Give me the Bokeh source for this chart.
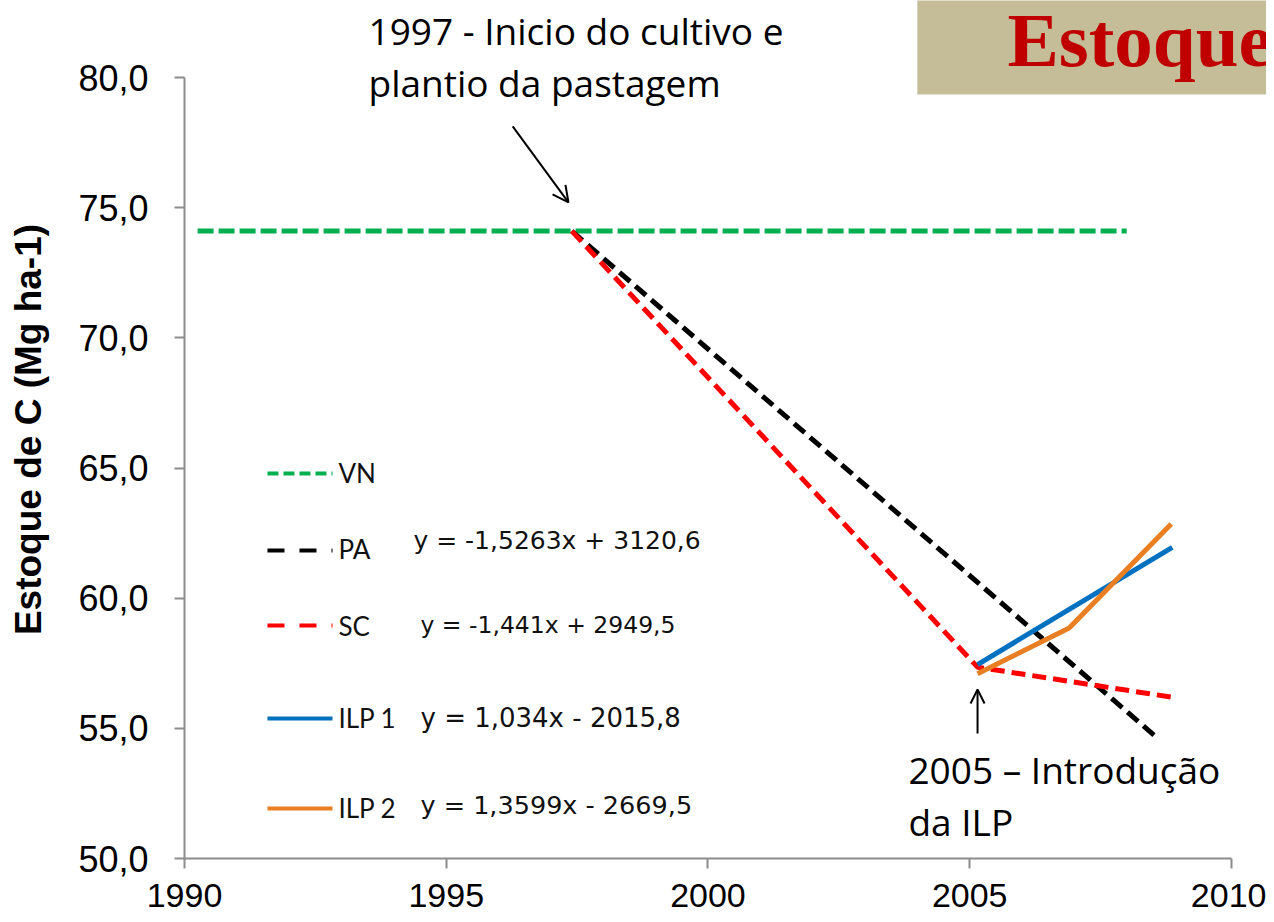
from bokeh.plotting import figure
from bokeh.models import Range1d, FixedTicker, Arrow, OpenHead
from bokeh.core.properties import value
from bokeh.embed import file_html
from bokeh.resources import INLINE

# ---- data ----
vn_x = [1990.25, 2008.0]
vn_y = [74.1, 74.1]
pa_x = [1997.4, 2008.6]
pa_y = [74.1, 54.6]
sc_x = [1997.4, 2005.15, 2008.85]
sc_y = [74.1, 57.35, 56.2]
ilp1_x = [2005.15, 2008.87]
ilp1_y = [57.45, 61.95]
ilp2_x = [2005.15, 2006.9, 2008.85]
ilp2_y = [57.1, 58.85, 62.85]

x_ticks = [1990, 1995, 2000, 2005, 2010]
y_ticks = [50, 55, 60, 65, 70, 75, 80]
y_tick_labels = ["50,0", "55,0", "60,0", "65,0", "70,0", "75,0", "80,0"]

series_names = ["VN", "PA", "SC", "ILP 1", "ILP 2"]
equations = ["", "y = -1,5263x + 3120,6", "y = -1,441x + 2949,5",
             "y = 1,034x - 2015,8", "y = 1,3599x - 2669,5"]

GREEN = "#00B050"
RED = "#FF0000"
BLACK = "#000000"
BLUE = "#0070C0"
ORANGE = "#E97E22"

p = figure(width=1266, height=914, output_backend="svg", toolbar_location=None,
           x_range=Range1d(1990, 2010.67), y_range=Range1d(50, 82.958),
           min_border_left=184, min_border_right=0, min_border_top=0,
           min_border_bottom=56)
p.outline_line_color = None
p.grid.visible = False
p.background_fill_color = "white"
p.border_fill_color = "white"

# axes
for ax in (p.xaxis[0], p.yaxis[0]):
    ax.axis_line_color = "#8C8C8C"
    ax.axis_line_width = 2
    ax.major_tick_line_color = "#8C8C8C"
    ax.major_tick_line_width = 2
    ax.major_tick_out = 10
    ax.major_tick_in = 0
    ax.minor_tick_line_color = None
    ax.major_label_text_font = "Liberation Sans"
    ax.major_label_text_color = "black"

p.xaxis.bounds = (1990, 2010)
p.xaxis.ticker = FixedTicker(ticks=x_ticks)
p.xaxis.major_label_text_font_size = "34px"
p.xaxis.major_label_standoff = 15

p.yaxis.bounds = (50, 80)
p.yaxis.ticker = FixedTicker(ticks=y_ticks)
p.yaxis.major_label_overrides = {t: l for t, l in zip(y_ticks, y_tick_labels)}
p.yaxis.major_label_text_font_size = "36px"
p.yaxis.major_label_standoff = 26
p.yaxis.axis_label = "Estoque de C (Mg ha-1)"
p.yaxis.axis_label_text_font = "Liberation Sans"
p.yaxis.axis_label_text_font_style = "bold"
p.yaxis.axis_label_text_font_size = "37px"
p.yaxis.axis_label_text_color = "black"
p.yaxis.axis_label_standoff = 26

# title box (top right)
p.quad(left=[2004.0], right=[2012], bottom=[79.35], top=[84],
       fill_color="#C4BD97", line_color=None)
p.text(x=[2005.72], y=[81.44], text=["Estoques"], text_font=value("Liberation Serif"),
       text_font_style="bold", text_font_size="77px", text_color="#C00000",
       text_baseline="middle", text_align="left")

# series
p.line(vn_x, vn_y, line_color=GREEN, line_width=5, line_dash="16 5")
p.line(pa_x, pa_y, line_color=BLACK, line_width=5, line_dash="14 7")
p.line(sc_x, sc_y, line_color=RED, line_width=5, line_dash="14 7")
p.line(ilp1_x, ilp1_y, line_color=BLUE, line_width=5)
p.line(ilp2_x, ilp2_y, line_color=ORANGE, line_width=5)

# custom legend
leg_colors = [GREEN, BLACK, RED, BLUE, ORANGE]
leg_dash = ["11 5", "17 15", "17 15", "solid", "solid"]
leg_line_y = [64.79, 61.83, 58.95, 55.38, 51.92]
leg_text_y = [64.79, 61.87, 58.93, 55.40, 51.94]
eq_y = [None, 62.21, 58.97, 55.38, 52.07]
eq_size = [None, "25px", "23.5px", "26px", "25.5px"]
for i in range(5):
    p.line([1991.585, 1992.827], [leg_line_y[i]] * 2, line_color=leg_colors[i],
           line_width=4, line_dash=leg_dash[i])
    p.text(x=[1992.94], y=[leg_text_y[i]], text=[series_names[i]],
           text_font=value("Lato"), text_font_size="26px", text_color="#111111",
           text_baseline="middle", text_align="left")
    if equations[i]:
        p.text(x=[1994.374 if i == 1 else 1994.508], y=[eq_y[i]], text=[equations[i]],
               text_font=value("DejaVu Sans"), text_font_size=eq_size[i],
               text_color="#111111", text_baseline="middle", text_align="left")

# annotations
p.text(x=[1993.515, 1993.515], y=[81.805, 79.81],
       text=["1997 - Inicio do cultivo e", "plantio da pastagem"],
       text_font=value("Open Sans"), text_font_size="37px", text_color="black",
       text_baseline="middle", text_align="left")
p.text(x=[2003.83, 2003.83], y=[53.42, 51.44],
       text=["2005 \u2013 Introdução", "da ILP"],
       text_font=value("Open Sans"), text_font_size="37px", text_color="black",
       text_baseline="middle", text_align="left")

p.add_layout(Arrow(x_start=1996.27, y_start=78.12, x_end=1997.335, y_end=75.20,
                   line_color="black", line_width=2,
                   end=OpenHead(size=16, line_color="black", line_width=2)))
p.add_layout(Arrow(x_start=2005.15, y_start=54.80, x_end=2005.15, y_end=56.49,
                   line_color="black", line_width=2,
                   end=OpenHead(size=14, line_color="black", line_width=2)))

open("out.html", "w").write(file_html(p, INLINE))
